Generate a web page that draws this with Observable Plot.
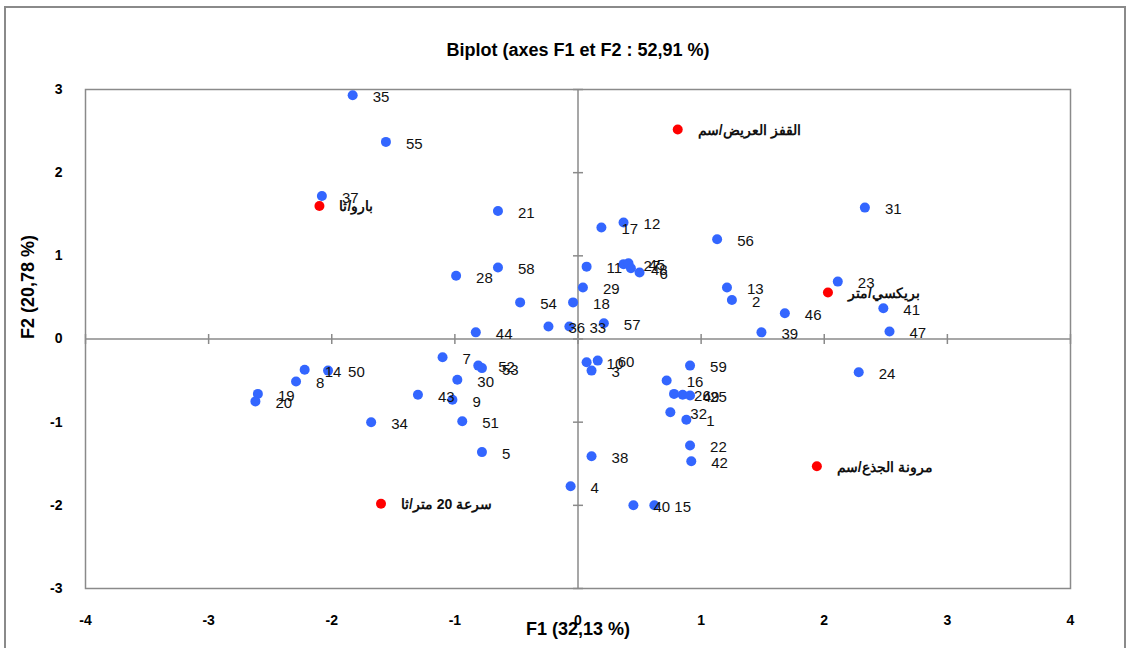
<!DOCTYPE html>
<html><head><meta charset="utf-8">
<script src="https://cdn.jsdelivr.net/npm/d3@7"></script>
<script src="https://cdn.jsdelivr.net/npm/@observablehq/plot@0.6"></script>
<style>
body{margin:0;background:#fff;}
#wrap{position:relative;width:1132px;height:648px;}
#border{position:absolute;left:4px;top:6px;width:1122px;height:660px;border:2px solid #8a8a8a;box-sizing:border-box;pointer-events:none;}
</style></head>
<body><div id="wrap"><div id="border"></div></div>
<script>
const ids = ["35","55","37","21","31","12","17","56","28","58","11","27","45","48","6","29","18","54","13","2","23","41","46","39","47","36","33","57","44","7","52","53","30","43","9","51","34","5","14","50","8","19","20","10","60","3","59","16","26","49","25","32","1","22","42","38","4","40","15","24"];
const f1 = [-1.83,-1.56,-2.08,-0.65,2.33,0.37,0.19,1.13,-0.99,-0.65,0.07,0.37,0.41,0.43,0.50,0.04,-0.04,-0.47,1.21,1.25,2.11,2.48,1.68,1.49,2.53,-0.24,-0.07,0.21,-0.83,-1.10,-0.81,-0.78,-0.98,-1.30,-1.02,-0.94,-1.68,-0.78,-2.22,-2.03,-2.29,-2.60,-2.62,0.07,0.16,0.11,0.91,0.72,0.78,0.85,0.91,0.75,0.88,0.91,0.92,0.11,-0.06,0.45,0.62,2.28];
const f2 = [2.93,2.37,1.72,1.54,1.58,1.40,1.34,1.20,0.76,0.86,0.87,0.90,0.91,0.85,0.80,0.62,0.44,0.44,0.62,0.47,0.69,0.37,0.31,0.08,0.09,0.15,0.15,0.19,0.08,-0.22,-0.32,-0.35,-0.49,-0.67,-0.73,-0.99,-1.00,-1.36,-0.37,-0.38,-0.51,-0.66,-0.75,-0.28,-0.26,-0.38,-0.32,-0.50,-0.66,-0.67,-0.68,-0.88,-0.97,-1.28,-1.47,-1.41,-1.77,-2.00,-2.00,-0.40];
const varNames = ["القفز العريض/سم","بارو/ثا","بريكسي/متر","مرونة الجذع/سم","سرعة 20 متر/ثا"];
const varF1 = [0.81,-2.10,2.03,1.94,-1.60];
const varF2 = [2.52,1.60,0.56,-1.53,-1.98];
const xTicks = [-4,-3,-2,-1,0,1,2,3,4];
const yTicks = [-3,-2,-1,0,1,2,3];
const title = "Biplot (axes F1 et F2 : 52,91 %)";
const xLabel = "F1 (32,13 %)";
const yLabel = "F2 (20,78 %)";

const obs = ids.map((id,i)=>({id, x:f1[i], y:f2[i]}));
const vars = varNames.map((n,i)=>({name:n, x:varF1[i], y:varF2[i]}));

const vTick = {draw(ctx){ctx.moveTo(0,-5);ctx.lineTo(0,5);}};
const hTick = {draw(ctx){ctx.moveTo(-5,0);ctx.lineTo(5,0);}};
const font = "'Liberation Sans', Arial, sans-serif";
const fmt = d => String(d);

const chart = Plot.plot({
  width:1132, height:648,
  marginLeft:85, marginRight:62, marginTop:89, marginBottom:60,
  style:{fontFamily:font, fontSize:"13px", background:"transparent"},
  x:{domain:[-4,4], ticks:xTicks},
  y:{domain:[-3,3], ticks:yTicks},
  marks:[
    Plot.frame({stroke:"#8a8a8a", strokeWidth:1.5}),
    Plot.ruleX([0],{stroke:"#8a8a8a", strokeWidth:1.5}),
    Plot.ruleY([0],{stroke:"#8a8a8a", strokeWidth:1.5}),
    Plot.dot(xTicks,{x:d=>d, y:0, symbol:vTick, stroke:"#8a8a8a", strokeWidth:1.5, r:5}),
    Plot.dot(yTicks,{x:0, y:d=>d, symbol:hTick, stroke:"#8a8a8a", strokeWidth:1.5, r:5}),
    Plot.axisX({ticks:xTicks, tickFormat:fmt, tickSize:0, tickPadding:27, fontWeight:"bold", fontSize:14, label:null}),
    Plot.axisY({ticks:yTicks, tickFormat:fmt, tickSize:0, tickPadding:23, fontWeight:"bold", fontSize:14, label:null}),
    Plot.dot(obs,{x:"x", y:"y", r:5, fill:"#3366ff"}),
    Plot.text(obs,{x:"x", y:"y", text:"id", dx:20, dy:2, textAnchor:"start", fontSize:15, fill:"#111"}),
    Plot.dot(vars,{x:"x", y:"y", r:5, fill:"#ff0000"}),
    Plot.text(vars,{x:"x", y:"y", text:"name", dx:20, dy:1, textAnchor:"start", fontSize:14, fontWeight:"bold", fill:"#111"}),
    Plot.text([title],{frameAnchor:"top", dy:-46, fontSize:18, fontWeight:"bold"}),
    Plot.text([xLabel],{frameAnchor:"bottom", dy:46, fontSize:18, fontWeight:"bold"}),
    Plot.text([yLabel],{frameAnchor:"left", dx:-57, rotate:-90, fontSize:18, fontWeight:"bold"})
  ]
});
document.getElementById("wrap").prepend(chart);
</script></body></html>
